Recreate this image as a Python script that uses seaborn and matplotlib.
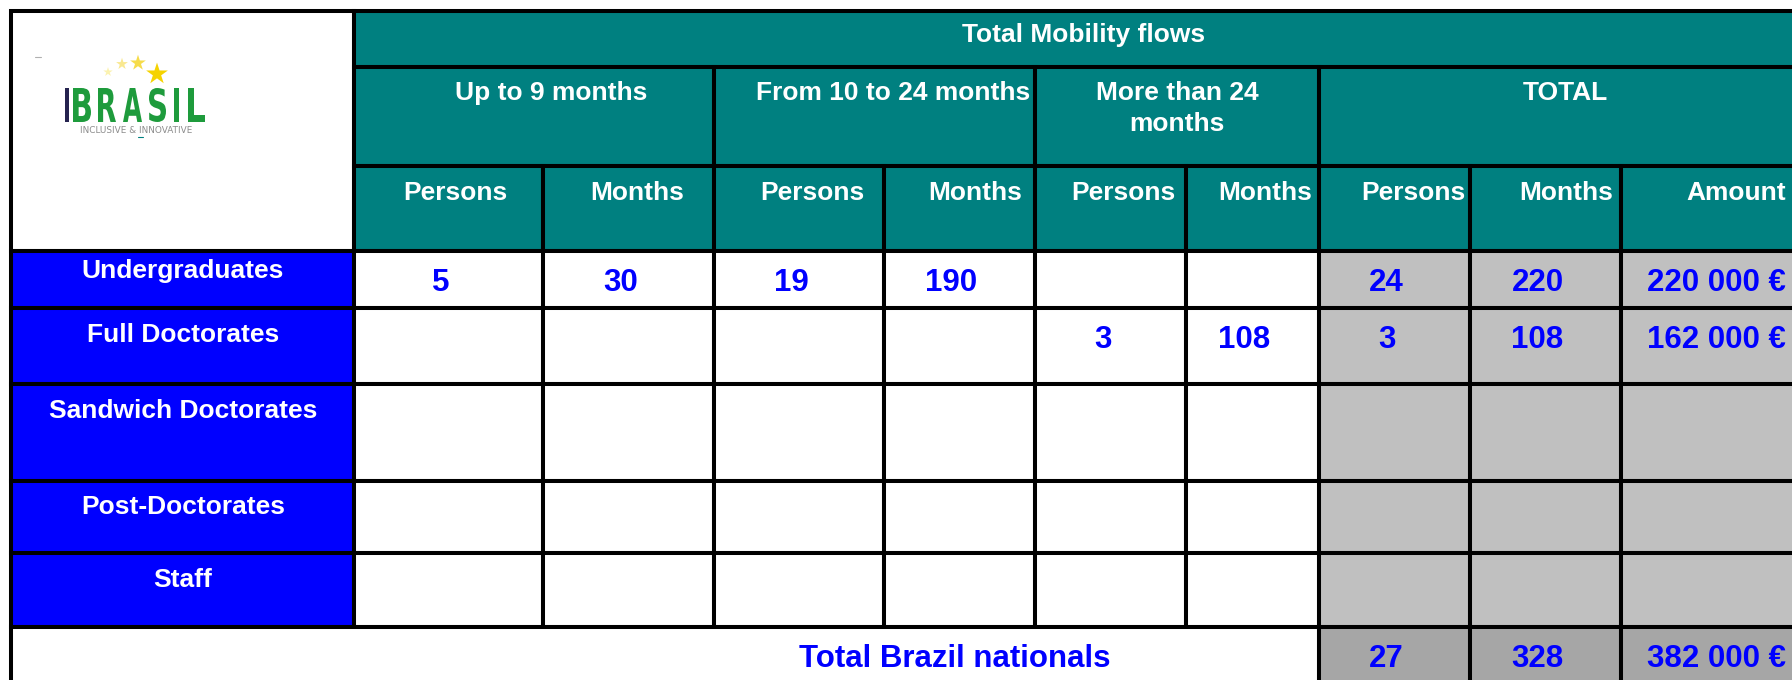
import matplotlib
matplotlib.use("Agg")
import matplotlib.pyplot as plt
import seaborn as sns
from matplotlib.patches import Rectangle, PathPatch
from matplotlib.textpath import TextPath
from matplotlib.font_manager import FontProperties
from matplotlib.transforms import Affine2D

# ------------------ Daten ------------------
row_labels = ["Undergraduates", "Full Doctorates", "Sandwich Doctorates", "Post-Doctorates", "Staff"]
persons_short = [5, None, None, None, None]
months_short = [30, None, None, None, None]
persons_mid = [19, None, None, None, None]
months_mid = [190, None, None, None, None]
persons_long = [None, 3, None, None, None]
months_long = [None, 108, None, None, None]
total_persons = [24, 3, None, None, None]
total_months = [220, 108, None, None, None]
amounts = [220000, 162000, None, None, None]

grand_label = "Total Brazil nationals"
grand_persons = 27
grand_months = 328
grand_amount = 382000

title = "Total Mobility flows"
group_headers = ["Up to 9 months", "From 10 to 24 months", "More than 24\nmonths", "TOTAL"]
sub_headers = ["Persons", "Months"] * 4 + ["Amount"]

# ------------------ Layout (Pixel) ------------------
TEAL = "#008080"
BLUE = "#0000FF"
GREY = "#C0C0C0"
DARKGREY = "#A6A6A6"
LW = 2.9

col_x = [11, 354, 543, 714, 884, 1035, 1186, 1319, 1470, 1621, 1880]
row_y = [11, 67, 166, 251, 308, 384, 481, 553, 627, 740]
group_cols = [(1, 3), (3, 5), (5, 7), (7, 10)]
group_x = [551, 893, 1177, 1565]
sub_x = [455, 637, 812, 975, 1123, 1265, 1413, 1566]
label_base = [278, 342, 418, 514, 587]
AMOUNT_RIGHT = 1786

sns.set_theme(style="white")
plt.rcParams['font.family'] = ['Liberation Sans', 'DejaVu Sans']

fig = plt.figure(figsize=(17.92, 6.8), dpi=100)
ax = fig.add_axes([0, 0, 1, 1])
ax.set_xlim(0, 1792)
ax.set_ylim(680, 0)
ax.axis('off')


def cell(c0, c1, r0, r1, fc):
    x0, x1 = col_x[c0], col_x[c1]
    y0, y1 = row_y[r0], row_y[r1]
    ax.add_patch(Rectangle((x0, y0), x1 - x0, y1 - y0, facecolor=fc,
                           edgecolor='black', lw=LW, zorder=1))


def fmt_amount(v):
    return f"{v:,}".replace(",", " ") + " €"


# Kopfbereich
cell(0, 1, 0, 3, "white")
cell(1, 10, 0, 1, TEAL)
ax.text(1084, 42, title, color="white", fontsize=19, fontweight="bold", ha="center", va="baseline")
for (c0, c1), gx, g in zip(group_cols, group_x, group_headers):
    cell(c0, c1, 1, 2, TEAL)
    for i, line in enumerate(g.split("\n")):
        ax.text(gx, 100 + 31 * i, line, color="white", fontsize=19, fontweight="bold",
                ha="center", va="baseline")
for j, s in enumerate(sub_headers):
    cell(j + 1, j + 2, 2, 3, TEAL)
    if s == "Amount":
        ax.text(AMOUNT_RIGHT, 200, s, color="white", fontsize=19, fontweight="bold", ha="right", va="baseline")
    else:
        ax.text(sub_x[j], 200, s, color="white", fontsize=19, fontweight="bold", ha="center", va="baseline")

# Tabellenkörper
columns = [persons_short, months_short, persons_mid, months_mid, persons_long, months_long,
           total_persons, total_months, amounts]
for i, lab in enumerate(row_labels):
    r = i + 3
    cell(0, 1, r, r + 1, BLUE)
    ax.text(183, label_base[i], lab, color="white", fontsize=19, fontweight="bold", ha="center", va="baseline")
    for j, col in enumerate(columns):
        cell(j + 1, j + 2, r, r + 1, "white" if j < 6 else GREY)
        v = col[i]
        if v is None:
            continue
        yb = row_y[r] + 40
        if j == 8:
            ax.text(AMOUNT_RIGHT, yb, fmt_amount(v), color=BLUE, fontsize=22.5, fontweight="bold",
                    ha="right", va="baseline")
        else:
            xc = (col_x[j + 1] + col_x[j + 2]) / 2 - 8
            ax.text(xc, yb, str(v), color=BLUE, fontsize=22.5, fontweight="bold", ha="center", va="baseline")

# Summenzeile
cell(0, 7, 8, 9, "white")
yb = row_y[8] + 40
ax.text(955, yb, grand_label, color=BLUE, fontsize=22.5, fontweight="bold", ha="center", va="baseline")
for j, v in zip([6, 7], [grand_persons, grand_months]):
    cell(j + 1, j + 2, 8, 9, DARKGREY)
    xc = (col_x[j + 1] + col_x[j + 2]) / 2 - 8
    ax.text(xc, yb, str(v), color=BLUE, fontsize=22.5, fontweight="bold", ha="center", va="baseline")
cell(9, 10, 8, 9, DARKGREY)
ax.text(AMOUNT_RIGHT, yb, fmt_amount(grand_amount), color=BLUE, fontsize=22.5, fontweight="bold",
        ha="right", va="baseline")

# ------------------ Logo ------------------
fp = FontProperties(family="DejaVu Sans", weight="bold")


def letter(ch, x0, x1, y_top, y_bot, color):
    p = TextPath((0, 0), ch, size=1, prop=fp)
    ext = p.get_extents()
    tr = (Affine2D().translate(-ext.x0, -ext.y0)
          .scale((x1 - x0) / ext.width, -(y_bot - y_top) / ext.height)
          .translate(x0, y_bot))
    ax.add_patch(PathPatch(tr.transform_path(p), facecolor=color, edgecolor="none", zorder=3))


letter("I", 65, 69, 88, 122, "#25234F")
for ch, (a, b) in zip("BRASIL", [(73, 91), (98, 116), (123, 142), (149, 166), (174, 179), (188, 205)]):
    letter(ch, a, b, 88, 122, "#1E9B3C")
ax.text(136, 133, "INCLUSIVE & INNOVATIVE", color="#8C8C8C", fontsize=6.4, ha="center", va="baseline",
        family="DejaVu Sans")
ax.plot([138, 143], [137, 137], color=TEAL, lw=0.8, zorder=3)
ax.plot([35, 41], [57, 57], color="#B0B0B0", lw=0.8, zorder=3)
ax.scatter([108, 122, 138, 157], [72, 64, 63, 74], marker="*", s=[50, 80, 140, 270],
           c=["#FBF2B0", "#F9E890", "#F6DC4A", "#F5D300"], linewidths=0, zorder=3)

fig.savefig("out.png", dpi=100)
